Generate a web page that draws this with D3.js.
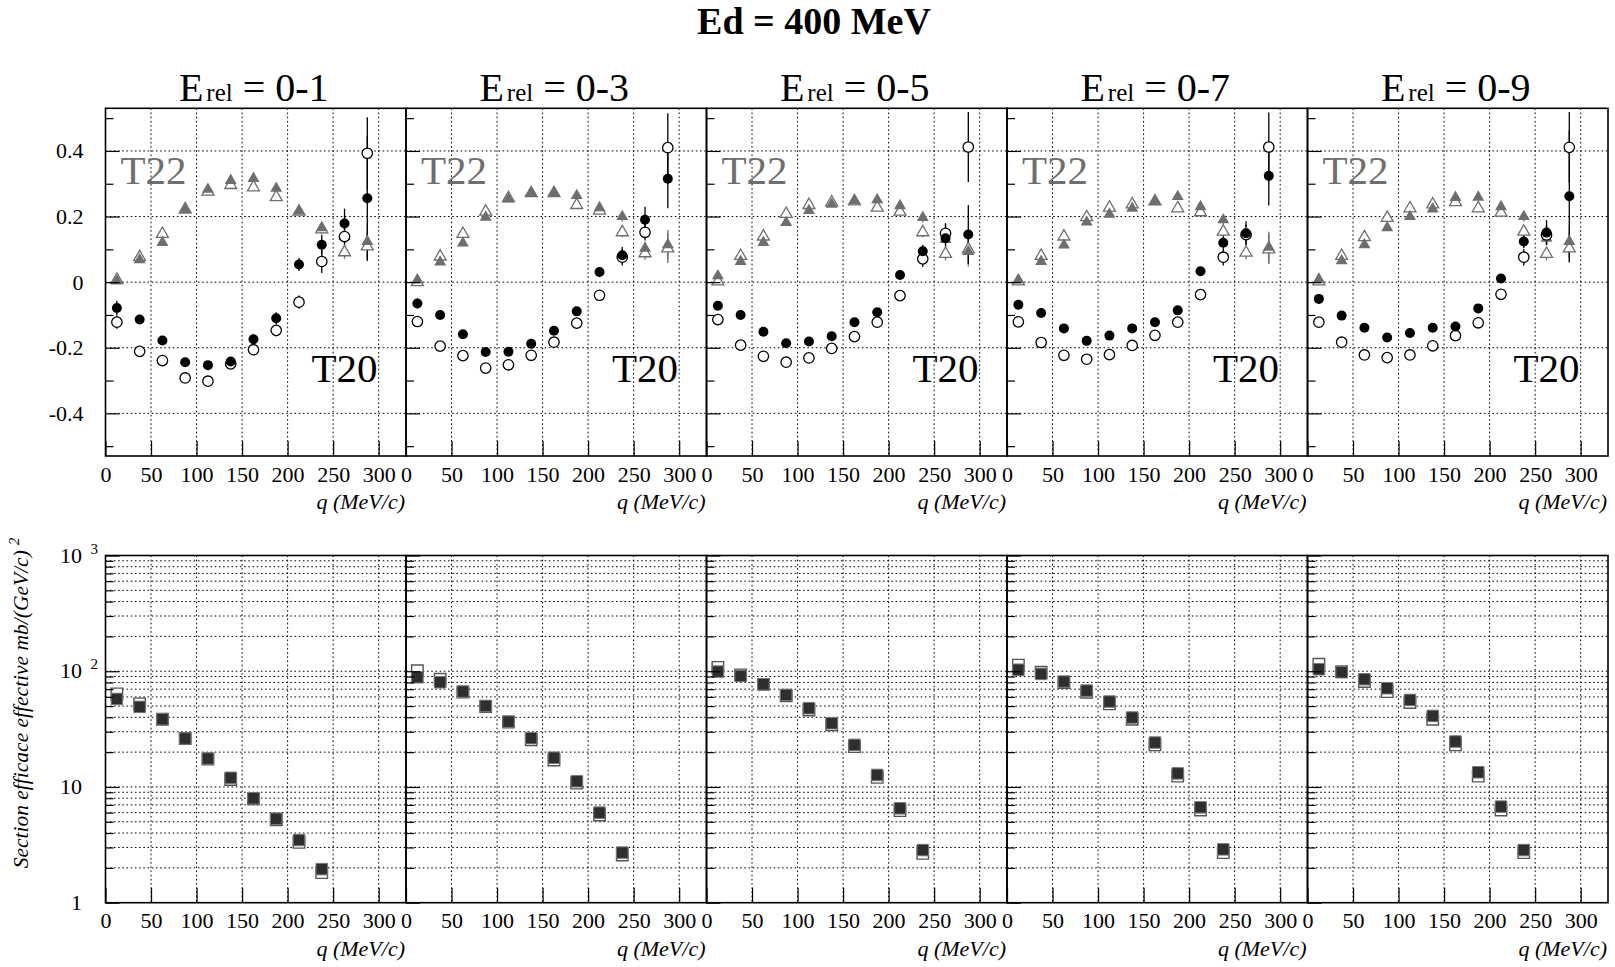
<!DOCTYPE html>
<html><head><meta charset="utf-8">
<script src="https://cdn.jsdelivr.net/npm/d3@7"></script>
<style>
body{margin:0;background:#fff}
svg{display:block}
text{font-family:"Liberation Serif","Times New Roman",serif}
</style>
</head><body>
<svg id="chart" width="1615" height="967"></svg>
<script>
// ---------------- DATA ----------------
const title = "Ed = 400 MeV";
const categories = ["0-1", "0-3", "0-5", "0-7", "0-9"];
const qBins = [12.5, 37.5, 62.5, 87.5, 112.5, 137.5, 162.5, 187.5, 212.5, 237.5, 262.5, 287.5];
const qBinsXs = [12.5, 37.5, 62.5, 87.5, 112.5, 137.5, 162.5, 187.5, 212.5, 237.5];
const xTicks = [0, 50, 100, 150, 200, 250, 300];
const yTicksTop = [-0.4, -0.2, 0, 0.2, 0.4];
const yMinorTop = [-0.5, -0.3, -0.1, 0.1, 0.3, 0.5];
const logMajor = [1, 10, 100, 1000];
const logExponent = ["", "", "2", "3"];
const xLabel = "q (MeV/c)";
const yLabelBottom = "Section efficace effective mb/(GeV/c)";

// T20 — filled circles
const t20Filled = [
  [-0.079,-0.114,-0.178,-0.244,-0.253,-0.242,-0.174,-0.110,0.054,0.114,0.179,0.256],
  [-0.065,-0.100,-0.159,-0.213,-0.212,-0.188,-0.148,-0.089,0.031,0.082,0.190,0.315],
  [-0.072,-0.100,-0.151,-0.186,-0.181,-0.165,-0.122,-0.092,0.022,0.094,0.134,0.145],
  [-0.069,-0.094,-0.141,-0.179,-0.163,-0.141,-0.122,-0.086,0.033,0.120,0.149,0.324],
  [-0.051,-0.102,-0.139,-0.169,-0.155,-0.139,-0.135,-0.080,0.011,0.124,0.151,0.262]
];
const t20FilledErr = [
  [0.022,0.012,0.012,0.012,0.012,0.012,0.015,0.018,0.020,0.030,0.045,0.190],
  [0.015,0.010,0.010,0.010,0.010,0.010,0.012,0.012,0.015,0.025,0.040,0.090],
  [0.012,0.010,0.010,0.010,0.010,0.010,0.010,0.012,0.012,0.020,0.045,0.090],
  [0.012,0.010,0.010,0.010,0.010,0.010,0.010,0.012,0.012,0.020,0.037,0.090],
  [0.015,0.010,0.010,0.010,0.010,0.010,0.010,0.012,0.012,0.020,0.038,0.200]
];
// T20 — open circles
const t20Open = [
  [-0.122,-0.211,-0.239,-0.292,-0.302,-0.249,-0.206,-0.147,-0.061,0.063,0.139,0.393],
  [-0.120,-0.195,-0.224,-0.262,-0.252,-0.223,-0.183,-0.125,-0.040,0.076,0.152,0.410],
  [-0.114,-0.192,-0.226,-0.244,-0.231,-0.202,-0.166,-0.122,-0.041,0.071,0.149,0.412],
  [-0.121,-0.184,-0.223,-0.235,-0.221,-0.193,-0.162,-0.122,-0.038,0.076,0.145,0.412],
  [-0.122,-0.183,-0.222,-0.230,-0.222,-0.194,-0.163,-0.124,-0.037,0.076,0.144,0.411]
];
const t20OpenErr = [
  [0.020,0.012,0.012,0.012,0.012,0.012,0.012,0.018,0.020,0.035,0.060,0.110],
  [0.012,0.010,0.010,0.010,0.010,0.010,0.010,0.012,0.012,0.025,0.025,0.105],
  [0.012,0.010,0.010,0.010,0.010,0.010,0.010,0.012,0.012,0.025,0.030,0.107],
  [0.012,0.010,0.010,0.010,0.010,0.010,0.010,0.012,0.012,0.025,0.030,0.105],
  [0.012,0.010,0.010,0.010,0.010,0.010,0.010,0.012,0.012,0.025,0.030,0.108]
];
// T22 — filled triangles
const t22Filled = [
  [0.003,0.068,0.121,0.220,0.283,0.310,0.316,0.286,0.217,0.166,0.139,0.124],
  [0.007,0.061,0.119,0.198,0.253,0.271,0.273,0.264,0.227,0.200,0.103,0.114],
  [0.019,0.063,0.121,0.182,0.218,0.237,0.249,0.251,0.233,0.197,0.130,0.093],
  [0.007,0.063,0.113,0.183,0.207,0.225,0.246,0.261,0.230,0.190,0.150,0.106],
  [0.009,0.065,0.114,0.166,0.200,0.223,0.258,0.259,0.230,0.200,0.134,0.124]
];
const t22FilledErr = [
  [0.008,0.008,0.008,0.008,0.008,0.008,0.008,0.010,0.012,0.015,0.020,0.055],
  [0.008,0.008,0.008,0.008,0.008,0.008,0.008,0.010,0.012,0.015,0.020,0.045],
  [0.008,0.008,0.008,0.008,0.008,0.008,0.008,0.010,0.012,0.015,0.020,0.045],
  [0.008,0.008,0.008,0.008,0.008,0.008,0.008,0.010,0.012,0.015,0.020,0.048],
  [0.008,0.008,0.008,0.008,0.008,0.008,0.008,0.010,0.012,0.015,0.020,0.050]
];
// T22 — open triangles
const t22Open = [
  [0.007,0.076,0.147,0.222,0.276,0.296,0.289,0.259,0.215,0.161,0.091,0.109],
  [0.000,0.078,0.147,0.215,0.256,0.271,0.271,0.235,0.218,0.152,0.088,0.103],
  [0.002,0.080,0.139,0.208,0.235,0.243,0.246,0.227,0.215,0.152,0.086,0.100],
  [0.002,0.080,0.139,0.198,0.227,0.237,0.246,0.225,0.213,0.154,0.090,0.100],
  [0.002,0.080,0.137,0.196,0.225,0.237,0.244,0.225,0.212,0.154,0.086,0.103]
];
const t22OpenErr = [
  [0.008,0.008,0.008,0.008,0.008,0.008,0.008,0.010,0.012,0.015,0.020,0.045],
  [0.008,0.008,0.008,0.008,0.008,0.008,0.008,0.010,0.012,0.015,0.020,0.045],
  [0.008,0.008,0.008,0.008,0.008,0.008,0.008,0.010,0.012,0.015,0.020,0.040],
  [0.008,0.008,0.008,0.008,0.008,0.008,0.008,0.010,0.012,0.015,0.020,0.045],
  [0.008,0.008,0.008,0.008,0.008,0.008,0.008,0.010,0.012,0.015,0.020,0.045]
];
// Cross sections — filled squares
const xsFilled = [
  [57.6,49.2,38.5,26.2,17.6,12.0,7.98,5.32,3.48,1.95],
  [88.7,80.3,66.7,50.1,36.7,26.4,17.9,11.2,6.0,2.71],
  [99.3,91.1,77.2,62.4,47.9,35.5,23.1,12.7,6.54,2.85],
  [103,94.8,81.4,68.0,54.7,39.8,24.2,13.1,6.67,2.89],
  [104,98.0,85.3,71.3,56.5,41.1,24.7,13.4,6.76,2.85]
];
// Cross sections — open squares
const xsOpen = [
  [63.7,52.2,38.5,26.2,17.4,11.6,7.9,5.2,3.32,1.82],
  [101,85.3,66.0,49.6,36.3,25.5,17.1,10.8,5.73,2.58],
  [108,93.0,77.0,61.2,46.3,34.4,22.3,12.1,6.24,2.67],
  [113,98.0,79.8,65.8,52.2,38.5,23.1,12.4,6.33,2.71],
  [115,99.3,81.4,66.7,53.6,38.5,23.1,12.4,6.33,2.71]
];

// ---------------- LAYOUT ----------------
const svg = d3.select("#chart");
svg.append("rect").attr("width",1615).attr("height",967).attr("fill","#fff");
const left0 = 105.5, panelW = 300.5;
const top1 = 108.3, bot1 = 456, top2 = 555.5, bot2 = 902.7;
const GRAY = "#6e6e6e";
const DASH = "1.6,2.6";
const SERIF = '"Liberation Serif","Times New Roman",serif';

svg.append("text").attr("x", 814).attr("y", 34).attr("text-anchor","middle")
  .style("font-family", SERIF).style("font-size","38px").style("font-weight","bold").text(title);

const yTop = d3.scaleLinear().domain([-0.53, 0.53]).range([bot1, top1]);
const yLog = d3.scaleLog().domain([1, 1000]).range([bot2, top2]);
const logMinor = yLog.ticks().filter(d => !logMajor.includes(d));
const logGrid = yLog.ticks().filter(d => d > 1 && d < 1000);

const tri = d3.symbol().type(d3.symbolTriangle).size(62);
const sq = d3.symbol().type(d3.symbolSquare).size(132);

function styleAxis(g){
  g.attr("font-family",null).attr("font-size",null);
  g.select(".domain").remove();
  g.selectAll(".tick line").attr("stroke","#000").attr("stroke-width",1.2);
  g.selectAll("text").style("font-family", SERIF).style("font-size","22px").attr("fill","#000");
}

categories.forEach((cat, i) => {
  const x0 = left0 + i*panelW;
  const x = d3.scaleLinear().domain([0, 330]).range([x0, x0 + panelW]);

  // ---------- panel title ----------
  const tt = svg.append("text").attr("x", x0 + panelW/2 - 2).attr("y", 101).attr("text-anchor","middle")
    .style("font-family", SERIF);
  tt.append("tspan").style("font-size","40px").text("E");
  tt.append("tspan").attr("dx", 3).style("font-size","25px").text("rel");
  tt.append("tspan").style("font-size","40px").text(" = " + cat);

  // ================= TOP PANEL =================
  const gt = svg.append("g");
  gt.selectAll(".vg").data(xTicks.filter(d => d > 0)).join("line")
    .attr("x1", d => x(d)).attr("x2", d => x(d)).attr("y1", top1).attr("y2", bot1)
    .attr("stroke","#000").attr("stroke-width",1).attr("stroke-dasharray",DASH);
  gt.selectAll(".hg").data(yTicksTop).join("line")
    .attr("x1", x0).attr("x2", x0 + panelW).attr("y1", d => yTop(d)).attr("y2", d => yTop(d))
    .attr("stroke","#000").attr("stroke-width",1).attr("stroke-dasharray",DASH);

  gt.append("text").attr("x", x0 + 15).attr("y", 184).style("font-family", SERIF).style("font-size","41px").attr("fill", GRAY).text("T22");
  gt.append("text").attr("x", x0 + 272).attr("y", 382).attr("text-anchor","end").style("font-family", SERIF).style("font-size","41px").attr("fill","#000").text("T20");

  function errBars(vals, errs, color){
    gt.append("g").selectAll("line").data(qBins.map((q,k)=>({q, v:vals[k], e:errs[k]}))).join("line")
      .attr("x1", d => x(d.q)).attr("x2", d => x(d.q))
      .attr("y1", d => yTop(d.v - d.e)).attr("y2", d => yTop(d.v + d.e))
      .attr("stroke", color).attr("stroke-width", 1.3);
  }
  errBars(t22Open[i], t22OpenErr[i], GRAY);
  errBars(t22Filled[i], t22FilledErr[i], GRAY);
  errBars(t20Open[i], t20OpenErr[i], "#000");
  errBars(t20Filled[i], t20FilledErr[i], "#000");

  gt.append("g").selectAll("path").data(qBins.map((q,k)=>({q, v:t22Open[i][k]}))).join("path")
    .attr("d", tri).attr("transform", d => `translate(${x(d.q)},${yTop(d.v)})`)
    .attr("fill","#fff").attr("stroke", GRAY).attr("stroke-width", 1.3);
  gt.append("g").selectAll("path").data(qBins.map((q,k)=>({q, v:t22Filled[i][k]}))).join("path")
    .attr("d", tri).attr("transform", d => `translate(${x(d.q)},${yTop(d.v)})`)
    .attr("fill", GRAY);
  gt.append("g").selectAll("circle").data(qBins.map((q,k)=>({q, v:t20Open[i][k]}))).join("circle")
    .attr("cx", d => x(d.q)).attr("cy", d => yTop(d.v)).attr("r", 5.2)
    .attr("fill","#fff").attr("stroke","#000").attr("stroke-width",1.3);
  gt.append("g").selectAll("circle").data(qBins.map((q,k)=>({q, v:t20Filled[i][k]}))).join("circle")
    .attr("cx", d => x(d.q)).attr("cy", d => yTop(d.v)).attr("r", 5).attr("fill","#000");

  gt.append("g").attr("transform",`translate(0,${bot1})`)
    .call(d3.axisBottom(x).tickValues(xTicks).tickSizeInner(-15).tickSizeOuter(0).tickPadding(10).tickFormat(d3.format("d")))
    .call(styleAxis);
  gt.append("g").attr("transform",`translate(${x0},0)`)
    .call(d3.axisLeft(yTop).tickValues(yTicksTop).tickSizeInner(-14).tickSizeOuter(0).tickPadding(22)
      .tickFormat(d => i === 0 ? (d === 0 ? "0" : String(d)) : ""))
    .call(styleAxis);
  gt.append("g").attr("transform",`translate(${x0},0)`)
    .call(d3.axisLeft(yTop).tickValues(yMinorTop).tickSizeInner(-8).tickSizeOuter(0).tickFormat(""))
    .call(styleAxis);
  gt.append("rect").attr("x", x0).attr("y", top1).attr("width", panelW).attr("height", bot1 - top1)
    .attr("fill","none").attr("stroke","#000").attr("stroke-width",1.6);
  gt.append("text").attr("x", x0 + panelW - 1).attr("y", 509).attr("text-anchor","end")
    .style("font-family", SERIF).style("font-size","22px").style("font-style","italic").text(xLabel);

  // ================= BOTTOM PANEL =================
  const gb = svg.append("g");
  gb.selectAll(".vg").data(xTicks.filter(d => d > 0)).join("line")
    .attr("x1", d => x(d)).attr("x2", d => x(d)).attr("y1", top2).attr("y2", bot2)
    .attr("stroke","#000").attr("stroke-width",1).attr("stroke-dasharray",DASH);
  gb.selectAll(".hg").data(logGrid).join("line")
    .attr("x1", x0).attr("x2", x0 + panelW).attr("y1", d => yLog(d)).attr("y2", d => yLog(d))
    .attr("stroke","#000").attr("stroke-width",1).attr("stroke-dasharray",DASH);

  gb.append("g").selectAll("path").data(qBinsXs.map((q,k)=>({q, v:xsOpen[i][k]}))).join("path")
    .attr("d", sq).attr("transform", d => `translate(${x(d.q)},${yLog(d.v)})`)
    .attr("fill","#fff").attr("stroke","#555").attr("stroke-width",1.4);
  gb.append("g").selectAll("path").data(qBinsXs.map((q,k)=>({q, v:xsFilled[i][k]}))).join("path")
    .attr("d", sq).attr("transform", d => `translate(${x(d.q)},${yLog(d.v)})`)
    .attr("fill","#2e2e2e").attr("stroke","#777").attr("stroke-width",1);

  gb.append("g").attr("transform",`translate(0,${bot2})`)
    .call(d3.axisBottom(x).tickValues(xTicks).tickSizeInner(-15).tickSizeOuter(0).tickPadding(10).tickFormat(d3.format("d")))
    .call(styleAxis);
  gb.append("g").attr("transform",`translate(${x0},0)`)
    .call(d3.axisLeft(yLog).tickValues(logMajor).tickSizeInner(-14).tickSizeOuter(0).tickFormat(""))
    .call(styleAxis);
  gb.append("g").attr("transform",`translate(${x0},0)`)
    .call(d3.axisLeft(yLog).tickValues(logMinor).tickSizeInner(-8).tickSizeOuter(0).tickFormat(""))
    .call(styleAxis);
  gb.append("rect").attr("x", x0).attr("y", top2).attr("width", panelW).attr("height", bot2 - top2)
    .attr("fill","none").attr("stroke","#000").attr("stroke-width",1.6);
  gb.append("text").attr("x", x0 + panelW - 1).attr("y", 956).attr("text-anchor","end")
    .style("font-family", SERIF).style("font-size","22px").style("font-style","italic").text(xLabel);
});

// log y tick labels (first panel only)
const ll = svg.append("g");
logMajor.forEach((v, k) => {
  const base = (v === 1) ? "1" : "10";
  ll.append("text").attr("x", 82).attr("y", yLog(v) + 7).attr("text-anchor","end")
    .style("font-family", SERIF).style("font-size","22px").text(base);
  if (logExponent[k]) {
    ll.append("text").attr("x", 90.5).attr("y", yLog(v) - 2)
      .style("font-family", SERIF).style("font-size","15px").text(logExponent[k]);
  }
});

// y-axis title (bottom row)
const yt = svg.append("text").attr("transform","translate(28,703) rotate(-90)").attr("text-anchor","middle")
  .style("font-family", SERIF).style("font-size","21.5px").style("font-style","italic");
yt.append("tspan").text(yLabelBottom);
yt.append("tspan").attr("dx", 5).attr("dy", -9).style("font-size","15px").text("2");
</script>
</body></html>
